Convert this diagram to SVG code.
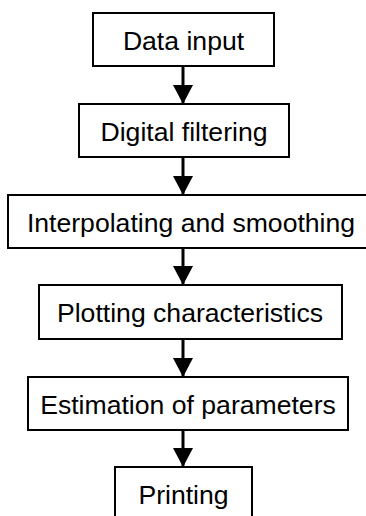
<svg xmlns="http://www.w3.org/2000/svg" width="366" height="516" viewBox="0 0 366 516">
<defs>
<style>
.box{fill:#fff;stroke:#000;stroke-width:2}
.lbl{font-family:"Liberation Sans",Arial,sans-serif;font-size:26.6px;fill:#000;text-anchor:middle}
.conn{stroke:#000;stroke-width:3;fill:none}
</style>
<marker id="ah" markerUnits="userSpaceOnUse" markerWidth="20" markerHeight="20" viewBox="0 0 20 20" refX="19" refY="10" orient="auto">
<polygon points="0,0 19,10 0,20" fill="#000"/>
</marker>
</defs>
<rect width="366" height="516" fill="#fff"/>
<g id="connectors">
<line class="conn" x1="183" y1="66" x2="183" y2="104" marker-end="url(#ah)"/>
<line class="conn" x1="183" y1="157" x2="183" y2="195" marker-end="url(#ah)"/>
<line class="conn" x1="183" y1="248" x2="183" y2="285" marker-end="url(#ah)"/>
<line class="conn" x1="183" y1="339" x2="183" y2="377" marker-end="url(#ah)"/>
<line class="conn" x1="183" y1="430" x2="183" y2="467" marker-end="url(#ah)"/>
</g>
<g id="n1"><rect class="box" x="93" y="13" width="181" height="53"/><text class="lbl" x="183.5" y="49.5">Data input</text></g>
<g id="n2"><rect class="box" x="79" y="104" width="210" height="53"/><text class="lbl" x="184" y="140.5">Digital filtering</text></g>
<g id="n3"><rect class="box" x="8" y="195" width="362" height="53"/><text class="lbl" x="191" y="231.5">Interpolating and smoothing</text></g>
<g id="n4"><rect class="box" x="39" y="285" width="303" height="54"/><text class="lbl" x="190" y="321.5">Plotting characteristics</text></g>
<g id="n5"><rect class="box" x="28" y="377" width="320" height="53"/><text class="lbl" x="188" y="413.5">Estimation of parameters</text></g>
<g id="n6"><rect class="box" x="115" y="467" width="137" height="60"/><text class="lbl" x="183.5" y="503.5">Printing</text></g>
</svg>
